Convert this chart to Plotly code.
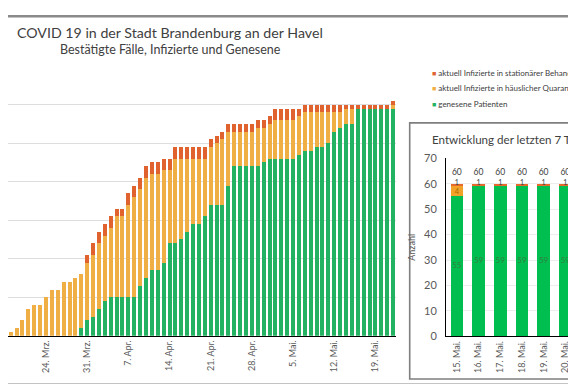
import plotly.graph_objects as go
import pandas as pd

# ---------------- data (main chart, 18 Mrz - 22 Mai 2020) ----------------
dates = pd.date_range("2020-03-18", periods=66, freq="D")
genesen = [0, 0, 0, 0, 0, 0, 0, 0, 0, 0, 0, 0, 2, 4, 5, 7, 9, 10, 10, 10,
           10, 10, 13, 15, 17, 17, 19, 24, 24, 25, 27, 29, 29, 31, 34, 34, 34, 39, 44, 44,
           44, 44, 44, 45, 46, 46, 46, 46, 46, 47, 48, 48, 49, 49, 50, 53, 54, 55, 55, 59,
           59, 59, 59, 59, 59, 59]
quarantaene = [1, 2, 4, 7, 8, 8, 10, 12, 12, 14, 14, 15, 14, 15, 16, 17, 17, 18, 21, 21,
               24, 26, 25, 26, 25, 25, 24, 19, 22, 21, 19, 17, 17, 15, 15, 16, 17, 14, 9, 9,
               9, 9, 10, 9, 9, 10, 10, 10, 10, 10, 10, 10, 9, 9, 8, 5, 4, 4, 4, 0,
               0, 0, 0, 0, 0, 1]
stationaer = [0, 0, 0, 0, 0, 0, 0, 0, 0, 0, 0, 0, 0, 2, 3, 3, 3, 3, 2, 2,
              3, 3, 3, 3, 3, 3, 3, 3, 3, 3, 3, 3, 3, 3, 2, 2, 2, 2, 2, 2,
              2, 2, 2, 2, 2, 3, 3, 3, 3, 2, 2, 2, 2, 2, 2, 2, 2, 1, 1, 1,
              1, 1, 1, 1, 1, 1]
tick_dates = ["2020-03-24", "2020-03-31", "2020-04-07", "2020-04-14", "2020-04-21",
              "2020-04-28", "2020-05-05", "2020-05-12", "2020-05-19"]
tick_text = ["24. Mrz.", "31. Mrz.", "7. Apr.", "14. Apr.", "21. Apr.",
             "28. Apr.", "5. Mai.", "12. Mai.", "19. Mai."]

# ---------------- data (inset, last 7 days) ----------------
inset_days = ["15. Mai.", "16. Mai.", "17. Mai.", "18. Mai.", "19. Mai.", "20. Mai.", "21. Mai."]
inset_genesen = [55, 59, 59, 59, 59, 59, 59]
inset_quar = [4, 0, 0, 0, 0, 0, 0]
inset_stat = [1, 1, 1, 1, 1, 1, 1]
inset_total = [60, 60, 60, 60, 60, 60, 60]

legend_names = ["aktuell Infizierte in stationärer Behandlung",
                "aktuell Infizierte in häuslicher Quarantäne",
                "genesene Patienten"]

W, H = 576, 384
GREEN, ORANGE, RED = "#23B262", "#F0AF45", "#E0622F"
IGREEN, IORANGE, IRED = "#00BF50", "#F2A229", "#E56A2C"
FONT = "Lato"
GRAY = "#595959"

def px(x):
    return x / W

def py(y):
    return 1 - y / H

fig = go.Figure()
day_ms = 86400000
for vals, col, name in [(genesen, GREEN, legend_names[2]),
                        (quarantaene, ORANGE, legend_names[1]),
                        (stationaer, RED, legend_names[0])]:
    fig.add_trace(go.Bar(x=dates, y=vals, marker=dict(color=col, line=dict(width=0)),
                         name=name, width=0.68 * day_ms, showlegend=False,
                         xaxis="x", yaxis="y", hoverinfo="x+y"))

for vals, col in [(inset_genesen, IGREEN), (inset_quar, IORANGE), (inset_stat, IRED)]:
    fig.add_trace(go.Bar(x=inset_days, y=vals, marker=dict(color=col, line=dict(width=0)),
                         width=0.585, showlegend=False, xaxis="x2", yaxis="y2"))

# inset data labels
g_y = [g / 2 for g in inset_genesen]
fig.add_trace(go.Scatter(x=inset_days, y=g_y, mode="text", text=[str(v) for v in inset_genesen],
                         textfont=dict(family=FONT, size=8, color="#2F7F3F"),
                         showlegend=False, xaxis="x2", yaxis="y2"))
q_x = [d for d, q in zip(inset_days, inset_quar) if q > 0]
q_y = [g + q / 2 - 0.3 for g, q in zip(inset_genesen, inset_quar) if q > 0]
q_t = [str(q) for q in inset_quar if q > 0]
fig.add_trace(go.Scatter(x=q_x, y=q_y, mode="text", text=q_t,
                         textfont=dict(family=FONT, size=7.5, color="#A86A00"),
                         showlegend=False, xaxis="x2", yaxis="y2"))
s_y = [g + q + s / 2 + 0.6 for g, q, s in zip(inset_genesen, inset_quar, inset_stat)]
fig.add_trace(go.Scatter(x=inset_days, y=s_y, mode="text", text=[str(v) for v in inset_stat],
                         textfont=dict(family=FONT, size=7, color="#404040"),
                         showlegend=False, xaxis="x2", yaxis="y2"))
fig.add_trace(go.Scatter(x=inset_days, y=[t + 4.3 for t in inset_total], mode="text",
                         text=[str(v) for v in inset_total],
                         textfont=dict(family=FONT, size=8.5, color="#404040"),
                         showlegend=False, xaxis="x2", yaxis="y2"))

start = dates[0] - pd.Timedelta(hours=0.46 * 24)
end = dates[-1] + pd.Timedelta(hours=0.5 * 24)

fig.update_layout(
    width=W, height=H, margin=dict(l=0, r=0, t=0, b=0),
    paper_bgcolor="white", plot_bgcolor="white",
    barmode="stack", showlegend=False,
    font=dict(family=FONT, color=GRAY),
    xaxis=dict(domain=[0, px(388)], type="date", range=[start, end],
               tickvals=tick_dates, ticktext=tick_text, tickangle=-90,
               tickfont=dict(family=FONT, size=9, color=GRAY),
               showgrid=False, showline=True, linecolor="black", linewidth=1,
               ticks="", anchor="y", zeroline=False),
    yaxis=dict(domain=[py(332), py(53)], range=[0, 70], dtick=10,
               showticklabels=False, showgrid=True, gridcolor="#DDDDDD", gridwidth=1,
               zeroline=False, anchor="x"),
    xaxis2=dict(domain=[px(438), 1], type="category", range=[-0.5, 5.86],
                tickangle=-90, tickfont=dict(family=FONT, size=9, color=GRAY),
                showline=True, linecolor="black", linewidth=1, ticks="",
                anchor="y2", showgrid=False),
    yaxis2=dict(domain=[py(332.7), py(148.3)], range=[0, 70], dtick=10,
                tickfont=dict(family=FONT, size=11, color=GRAY),
                showline=True, linecolor="black", linewidth=1, ticks="",
                ticklabelstandoff=6,
                showgrid=True, gridcolor="#EDEDED", zeroline=False, anchor="x2",
                title=dict(text="Anzahl", font=dict(family=FONT, size=9, color=GRAY),
                           standoff=6)),
)

shapes = [
    # outer frame (top and bottom edges)
    dict(type="rect", xref="paper", yref="paper", x0=0, x1=1, y0=py(2.5), y1=1,
         fillcolor="#8A8A8A", line=dict(width=0)),
    dict(type="rect", xref="paper", yref="paper", x0=0, x1=1, y0=0, y1=py(381.5),
         fillcolor="#8A8A8A", line=dict(width=0)),
    # legend backing that hides the top gridline on the right
    dict(type="rect", xref="paper", yref="paper", x0=px(350), x1=px(392), y0=py(56), y1=py(50),
         fillcolor="white", line=dict(width=0), layer="above"),
    # inset frame
    dict(type="rect", xref="paper", yref="paper", x0=px(401.7), x1=px(590), y0=py(376.7), y1=py(111.7),
         fillcolor="rgba(0,0,0,0)", line=dict(color="#7F7F7F", width=1.6)),
]
fig.update_layout(shapes=shapes)

annotations = [
    dict(text="COVID 19 in der Stadt Brandenburg an der Havel", x=px(162), y=py(18),
         xref="paper", yref="paper", showarrow=False, xanchor="center", yanchor="middle",
         font=dict(family=FONT, size=14.2, color="#404040")),
    dict(text="Bestätigte Fälle, Infizierte und Genesene", x=px(162), y=py(36),
         xref="paper", yref="paper", showarrow=False, xanchor="center", yanchor="middle",
         font=dict(family=FONT, size=12.5, color="#404040")),
    dict(text="Entwicklung der letzten 7 Tage", x=px(422), y=py(129),
         xref="paper", yref="paper", showarrow=False, xanchor="left", yanchor="middle",
         font=dict(family=FONT, size=11.6, color="#404040")),
]
leg_y = [60, 76, 92]
leg_cols = [RED, ORANGE, GREEN]
for name, col, yy in zip(legend_names, leg_cols, leg_y):
    annotations.append(dict(
        text=f'<span style="color:{col};font-size:7px">■</span> {name}', x=px(422), y=py(yy),
        xref="paper", yref="paper", showarrow=False, xanchor="left", yanchor="middle",
        font=dict(family=FONT, size=8, color="#404040")))
fig.update_layout(annotations=annotations)

fig.write_html("out.html")
